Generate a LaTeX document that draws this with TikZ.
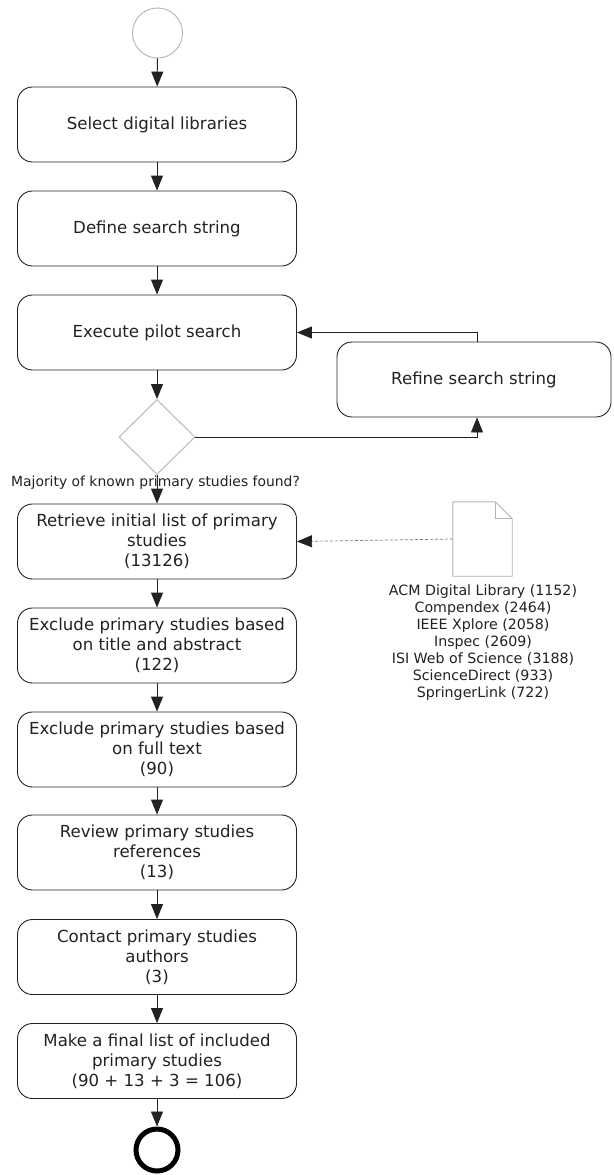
\documentclass[tikz,border=0pt]{standalone}
\usepackage{fontspec}
\setmainfont{DejaVu Sans}
\usetikzlibrary{shapes.geometric,arrows.meta}
\definecolor{ink}{HTML}{222222}
\definecolor{pale}{HTML}{B4B4B4}
\tikzset{
  act/.style={draw=ink, line width=0.9pt, rounded corners=15pt, minimum width=279pt,
    minimum height=75pt, inner sep=0pt, align=center, text=ink,
    font=\fontsize{16.6}{20}\selectfont},
  tip/.style={-{Triangle[length=15pt,width=12pt,color=ink]}},
  flow/.style={draw=ink, line width=0.9pt, tip},
  note/.style={align=center, text=ink, inner sep=0pt, font=\fontsize{14.2}{17}\selectfont},
}
\begin{document}
\begin{tikzpicture}[x=1pt,y=-1pt]
  \useasboundingbox (0,0) rectangle (613,1175);
  \fill[white] (0,0) rectangle (613,1175);

  % start and end
  \node[circle, draw=pale, line width=0.9pt, minimum size=50pt, inner sep=0pt] (start) at (157.5,33) {};
  \node[circle, draw=black, line width=5pt, minimum size=42pt, inner sep=0pt] (stop) at (157,1150) {};

  % activities
  \node[act] (sel) at (157,124.5) {Select digital libraries};
  \node[act] (def) at (157,228.5) {Define search string};
  \node[act] (pil) at (157,332.5) {Execute pilot search};
  \node[act, minimum width=274pt] (ref) at (474,379.5) {Refine search string};
  \node[diamond, draw=pale, line width=0.9pt, minimum width=76pt, minimum height=75pt,
    inner sep=0pt] (dec) at (157,437) {};
  \node[act] (ret) at (157,541.5) {Retrieve initial list of primary\\studies\\(13126)};
  \node[act] (exa) at (157,645.5) {Exclude primary studies based\\on title and abstract\\(122)};
  \node[act] (exf) at (157,749.5) {Exclude primary studies based\\on full text\\(90)};
  \node[act] (rev) at (157,852.5) {Review primary studies\\references\\(13)};
  \node[act] (con) at (157,957) {Contact primary studies\\authors\\(3)};
  \node[act] (fin) at (157,1061) {Make a final list of included\\primary studies\\(90 + 13 + 3 = 106)};

  % document with the source libraries
  \node[minimum width=59pt, minimum height=74pt, inner sep=0pt] (doc) at (482.5,539) {};
  \draw[pale, line width=0.9pt, line join=miter]
    (doc.north west) -- ([xshift=-17pt]doc.north east) -- ([yshift=-17pt]doc.north east)
    -- (doc.south east) -- (doc.south west) -- cycle;
  \draw[pale, line width=0.9pt]
    ([xshift=-17pt]doc.north east) -- ([xshift=-17pt,yshift=-17pt]doc.north east)
    -- ([yshift=-17pt]doc.north east);
  \node[note, anchor=north] (src) at (483,585)
    {ACM Digital Library (1152)\\Compendex (2464)\\IEEE Xplore (2058)\\Inspec (2609)\\ISI Web of Science (3188)\\ScienceDirect (933)\\SpringerLink (722)};

  % connectors
  \draw[flow] (start) -- (sel);
  \draw[flow] (sel) -- (def);
  \draw[flow] (def) -- (pil);
  \draw[flow] (pil) -- (dec);
  \draw[flow] (dec.east) -| ([xshift=3pt]ref.south);
  \draw[flow] ([xshift=3pt]ref.north) |- (pil.east);
  \draw[flow] (dec) -- (ret);
  \draw[tip, densely dashed, draw=ink!60, line width=0.7pt] (doc.west) -- (ret.east);
  \draw[flow] (ret) -- (exa);
  \draw[flow] (exa) -- (exf);
  \draw[flow] (exf) -- (rev);
  \draw[flow] (rev) -- (con);
  \draw[flow] (con) -- (fin);
  \draw[flow] (fin) -- (stop);

  \node[note, font=\fontsize{13.9}{16}\selectfont] (q) at (155.5,483)
    {Majority of known primary studies found?};
\end{tikzpicture}
\end{document}
